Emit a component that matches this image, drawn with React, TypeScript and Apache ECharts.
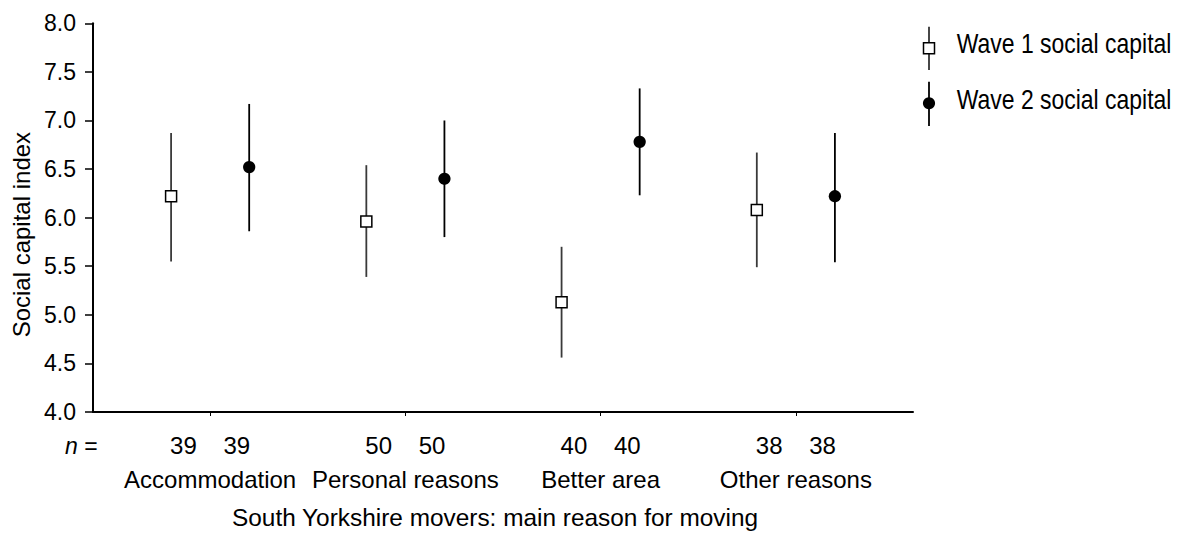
import React, { useEffect, useRef } from "react";
import * as echarts from "echarts";

// Reasons for moving (one group per reason) and the sample size of each group
const categories = ["Accommodation", "Personal reasons", "Better area", "Other reasons"];
const nCounts = [39, 50, 40, 38];

// Wave 1 social capital: mean and interval bounds
const wave1Mean = [6.22, 5.96, 5.13, 6.08];
const wave1Low = [5.55, 5.39, 4.56, 5.49];
const wave1High = [6.87, 6.54, 5.7, 6.67];

// Wave 2 social capital: mean and interval bounds
const wave2Mean = [6.52, 6.4, 6.78, 6.22];
const wave2Low = [5.86, 5.8, 6.23, 5.54];
const wave2High = [7.17, 7.0, 7.33, 6.87];

const yTicks = [4, 4.5, 5, 5.5, 6, 6.5, 7, 7.5, 8];

const FONT = "'Liberation Sans', Arial, Helvetica, sans-serif";
const OFFSET = 0.2; // horizontal shift of each wave from its group centre

const groupPos = categories.map((_, i) => i + 1);

function errorBarSeries(name: string, xs: number[], low: number[], high: number[], color: string, width: number) {
  return {
    name,
    type: "custom",
    z: 2,
    data: xs.map((x, i) => [x, low[i], high[i]]),
    encode: { x: 0, y: [1, 2] },
    renderItem: (_params: any, api: any) => {
      const p1 = api.coord([api.value(0), api.value(1)]);
      const p2 = api.coord([api.value(0), api.value(2)]);
      return {
        type: "line",
        shape: { x1: p1[0], y1: p1[1], x2: p2[0], y2: p2[1] },
        style: { stroke: color, lineWidth: width },
      };
    },
  };
}

export default function App() {
  const ref = useRef<HTMLDivElement>(null);

  useEffect(() => {
    if (!ref.current) return;
    const chart = echarts.init(ref.current, undefined, { renderer: "svg" });

    const w1x = groupPos.map((p) => p - OFFSET);
    const w2x = groupPos.map((p) => p + OFFSET);

    chart.setOption({
      animation: false,
      backgroundColor: "#ffffff",
      grid: { left: 93, right: 266, top: 23.3, bottom: 119.5, containLabel: false },
      xAxis: {
        type: "value",
        min: 0.4,
        max: 4.6,
        name: "South Yorkshire movers: main reason for moving",
        nameLocation: "middle",
        nameGap: 93,
        nameTextStyle: { fontFamily: FONT, fontSize: 24.4, color: "#000", padding: [0, 16, 0, 0] },
        splitLine: { show: false },
        axisLine: { show: true, lineStyle: { color: "#000", width: 2 } },
        axisTick: { show: true, customValues: groupPos, length: 4, lineStyle: { color: "#000", width: 1 } },
        axisLabel: {
          customValues: groupPos,
          margin: 16,
          formatter: (v: number) => {
            const i = Math.round(v) - 1;
            return `{n|${nCounts[i]}    ${nCounts[i]}}\n{c|${categories[i]}}`;
          },
          rich: {
            n: { fontFamily: FONT, fontSize: 24, color: "#000", lineHeight: 34 },
            c: { fontFamily: FONT, fontSize: 24, color: "#000", lineHeight: 34 },
          },
        },
      },
      yAxis: {
        type: "value",
        min: 4,
        max: 8,
        interval: 0.5,
        name: "Social capital index",
        nameLocation: "middle",
        nameGap: 60,
        nameTextStyle: { fontFamily: FONT, fontSize: 24, color: "#000", padding: [0, 34, 0, 0] },
        splitLine: { show: false },
        axisLine: { show: true, lineStyle: { color: "#000", width: 2 } },
        axisTick: { show: true, length: 8, lineStyle: { color: "#000", width: 1.5 } },
        axisLabel: {
          margin: 17,
          fontFamily: FONT,
          fontSize: 23,
          color: "#000",
          formatter: (v: number) => (yTicks.includes(v) ? v.toFixed(1) : ""),
        },
      },
      graphic: [
        { type: "text", left: 65, top: 434, style: { text: "{i|n} =", fontFamily: FONT, fontSize: 23, fill: "#000", rich: { i: { fontFamily: FONT, fontSize: 23, fontStyle: "italic" } } } },
        // legend: wave 1
        { type: "line", shape: { x1: 929, y1: 26.7, x2: 929, y2: 70 }, style: { stroke: "#333", lineWidth: 1.8 } },
        { type: "rect", shape: { x: 923.5, y: 42.8, width: 11, height: 11 }, style: { fill: "#fff", stroke: "#000", lineWidth: 1.5 } },
        { type: "text", x: 956.7, y: 43.3, scaleX: 0.82, style: { text: "Wave 1 social capital", fontFamily: FONT, fontSize: 28, fill: "#000", align: "left", verticalAlign: "middle" } },
        // legend: wave 2
        { type: "line", shape: { x1: 929, y1: 81.7, x2: 929, y2: 126 }, style: { stroke: "#000", lineWidth: 1.8 } },
        { type: "circle", shape: { cx: 929, cy: 103.3, r: 6.1 }, style: { fill: "#000" } },
        { type: "text", x: 956.7, y: 99.3, scaleX: 0.82, style: { text: "Wave 2 social capital", fontFamily: FONT, fontSize: 28, fill: "#000", align: "left", verticalAlign: "middle" } },
      ],
      series: [
        errorBarSeries("Wave 1 interval", w1x, wave1Low, wave1High, "#3a3a3a", 1.8),
        errorBarSeries("Wave 2 interval", w2x, wave2Low, wave2High, "#000", 1.8),
        {
          name: "Wave 1 social capital",
          type: "scatter",
          z: 3,
          symbol: "rect",
          symbolSize: 11,
          data: w1x.map((x, i) => [x, wave1Mean[i]]),
          itemStyle: { color: "#fff", borderColor: "#000", borderWidth: 1.5, opacity: 1 },
        },
        {
          name: "Wave 2 social capital",
          type: "scatter",
          z: 3,
          symbol: "circle",
          symbolSize: 12.3,
          data: w2x.map((x, i) => [x, wave2Mean[i]]),
          itemStyle: { color: "#000", opacity: 1 },
        },
      ],
    });

    return () => chart.dispose();
  }, []);

  return <div ref={ref} style={{ position: "fixed", left: 0, top: 0, width: 1179, height: 534 }} />;
}
